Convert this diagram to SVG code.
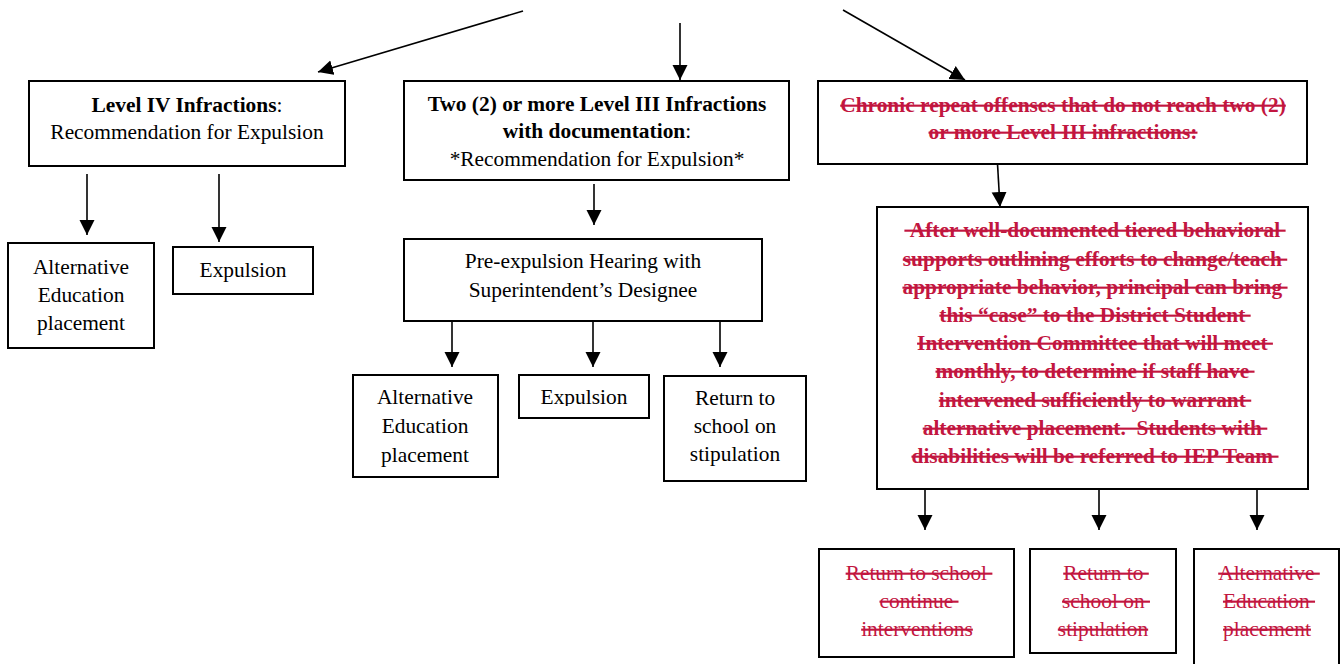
<svg xmlns="http://www.w3.org/2000/svg" width="1340" height="664" viewBox="0 0 1340 664">
<style>
.box{fill:#fff;stroke:#000;stroke-width:2}
.t{font-family:"Liberation Serif","Times New Roman",serif;font-size:21.4px;fill:#000;text-anchor:middle;white-space:pre}
.b{font-weight:bold}
.r{fill:#C2163F;text-decoration:line-through}
.c{stroke:#000;stroke-width:1.6;fill:none;marker-end:url(#ah)}
</style>
<defs>
<marker id="ah" markerUnits="userSpaceOnUse" markerWidth="16" markerHeight="16" refX="15" refY="7.5" orient="auto"><path d="M0,0 L15,7.5 L0,15 z" fill="#000"/></marker>
<clipPath id="clipTwo"><rect x="405" y="82" width="383" height="87"/></clipPath>
<clipPath id="clipExp"><rect x="520" y="376" width="128" height="30"/></clipPath>
</defs>
<rect width="1340" height="664" fill="#fff"/>
<g id="connectors">
<line class="c" x1="523" y1="11" x2="318" y2="72"/>
<line class="c" x1="680" y1="23" x2="680" y2="80"/>
<line class="c" x1="843" y1="10" x2="965" y2="80"/>
<line class="c" x1="87" y1="174" x2="87" y2="235"/>
<line class="c" x1="219" y1="174" x2="219" y2="242"/>
<line class="c" x1="594" y1="184" x2="594" y2="225"/>
<line class="c" x1="452" y1="321" x2="452" y2="367"/>
<line class="c" x1="593" y1="321" x2="593" y2="367"/>
<line class="c" x1="720" y1="321" x2="720" y2="367"/>
<line class="c" x1="997" y1="155" x2="1000" y2="207"/>
<line class="c" x1="925" y1="489" x2="925" y2="530"/>
<line class="c" x1="1099" y1="489" x2="1099" y2="530"/>
<line class="c" x1="1257" y1="489" x2="1257" y2="530"/>
</g>
<g id="level4">
<rect class="box" x="29" y="81" width="316" height="85"/>
<text class="t" x="187" y="112"><tspan class="b">Level IV Infractions</tspan>:</text>
<text class="t" x="187" y="139">Recommendation for Expulsion</text>
</g>
<g id="two-level3">
<rect class="box" x="404" y="81" width="385" height="99"/>
<g clip-path="url(#clipTwo)">
<text class="t b" x="597" y="111">Two (2) or more Level III Infractions</text>
<text class="t" x="597" y="138"><tspan class="b">with documentation</tspan>:</text>
<text class="t" x="597" y="166">*Recommendation for Expulsion*</text>
</g>
</g>
<g id="chronic">
<rect class="box" x="818" y="81" width="489" height="83"/>
<text class="t b r" x="1063" y="112">Chronic repeat offenses that do not reach two (2)</text>
<text class="t b r" x="1063" y="139">or more Level III infractions:</text>
</g>
<g id="alt-ed-left">
<rect class="box" x="8" y="243" width="146" height="105"/>
<text class="t" x="81" y="274">Alternative</text>
<text class="t" x="81" y="302">Education</text>
<text class="t" x="81" y="330">placement</text>
</g>
<g id="expulsion-left">
<rect class="box" x="173" y="247" width="140" height="47"/>
<text class="t" x="243" y="277">Expulsion</text>
</g>
<g id="pre-expulsion">
<rect class="box" x="404" y="239" width="358" height="82"/>
<text class="t" x="583" y="268">Pre-expulsion Hearing with</text>
<text class="t" x="583" y="297">Superintendent’s Designee</text>
</g>
<g id="after">
<rect class="box" x="877" y="207" width="431" height="282"/>
<text class="t b r" x="1095" y="237">&#160;After well-documented tiered behavioral&#160;</text>
<text class="t b r" x="1095" y="266">supports outlining efforts to change/teach&#160;</text>
<text class="t b r" x="1095" y="294">appropriate behavior, principal can bring&#160;</text>
<text class="t b r" x="1095" y="322">this “case” to the District Student&#160;</text>
<text class="t b r" x="1095" y="350">Intervention Committee that will meet&#160;</text>
<text class="t b r" x="1095" y="378">monthly, to determine if staff have&#160;</text>
<text class="t b r" x="1095" y="407">intervened sufficiently to warrant&#160;</text>
<text class="t b r" x="1095" y="435">alternative placement.&#160; Students with&#160;</text>
<text class="t b r" x="1095" y="463">disabilities will be referred to IEP Team&#160;</text>
</g>
<g id="alt-ed-mid">
<rect class="box" x="353" y="375" width="145" height="102"/>
<text class="t" x="425" y="404">Alternative</text>
<text class="t" x="425" y="433">Education</text>
<text class="t" x="425" y="462">placement</text>
</g>
<g id="expulsion-mid">
<rect class="box" x="519" y="375" width="130" height="43"/>
<g clip-path="url(#clipExp)"><text class="t" x="584" y="404">Expulsion</text></g>
</g>
<g id="return-mid">
<rect class="box" x="664" y="376" width="142" height="105"/>
<text class="t" x="735" y="405">Return to</text>
<text class="t" x="735" y="433">school on</text>
<text class="t" x="735" y="461">stipulation</text>
</g>
<g id="return-continue">
<rect class="box" x="819" y="549" width="195" height="108"/>
<text class="t r" x="919" y="580">Return to school&#160;</text>
<text class="t r" x="919" y="608">continue&#160;</text>
<text class="t r" x="917" y="636">interventions</text>
</g>
<g id="return-stipulation">
<rect class="box" x="1030" y="549" width="146" height="104"/>
<text class="t r" x="1106" y="580">Return to&#160;</text>
<text class="t r" x="1106" y="608">school on&#160;</text>
<text class="t r" x="1103" y="636">stipulation</text>
</g>
<g id="alt-ed-right">
<rect class="box" x="1194" y="549" width="145" height="130"/>
<text class="t r" x="1269" y="580">Alternative&#160;</text>
<text class="t r" x="1269" y="608">Education&#160;</text>
<text class="t r" x="1267" y="636">placement</text>
</g>
</svg>
